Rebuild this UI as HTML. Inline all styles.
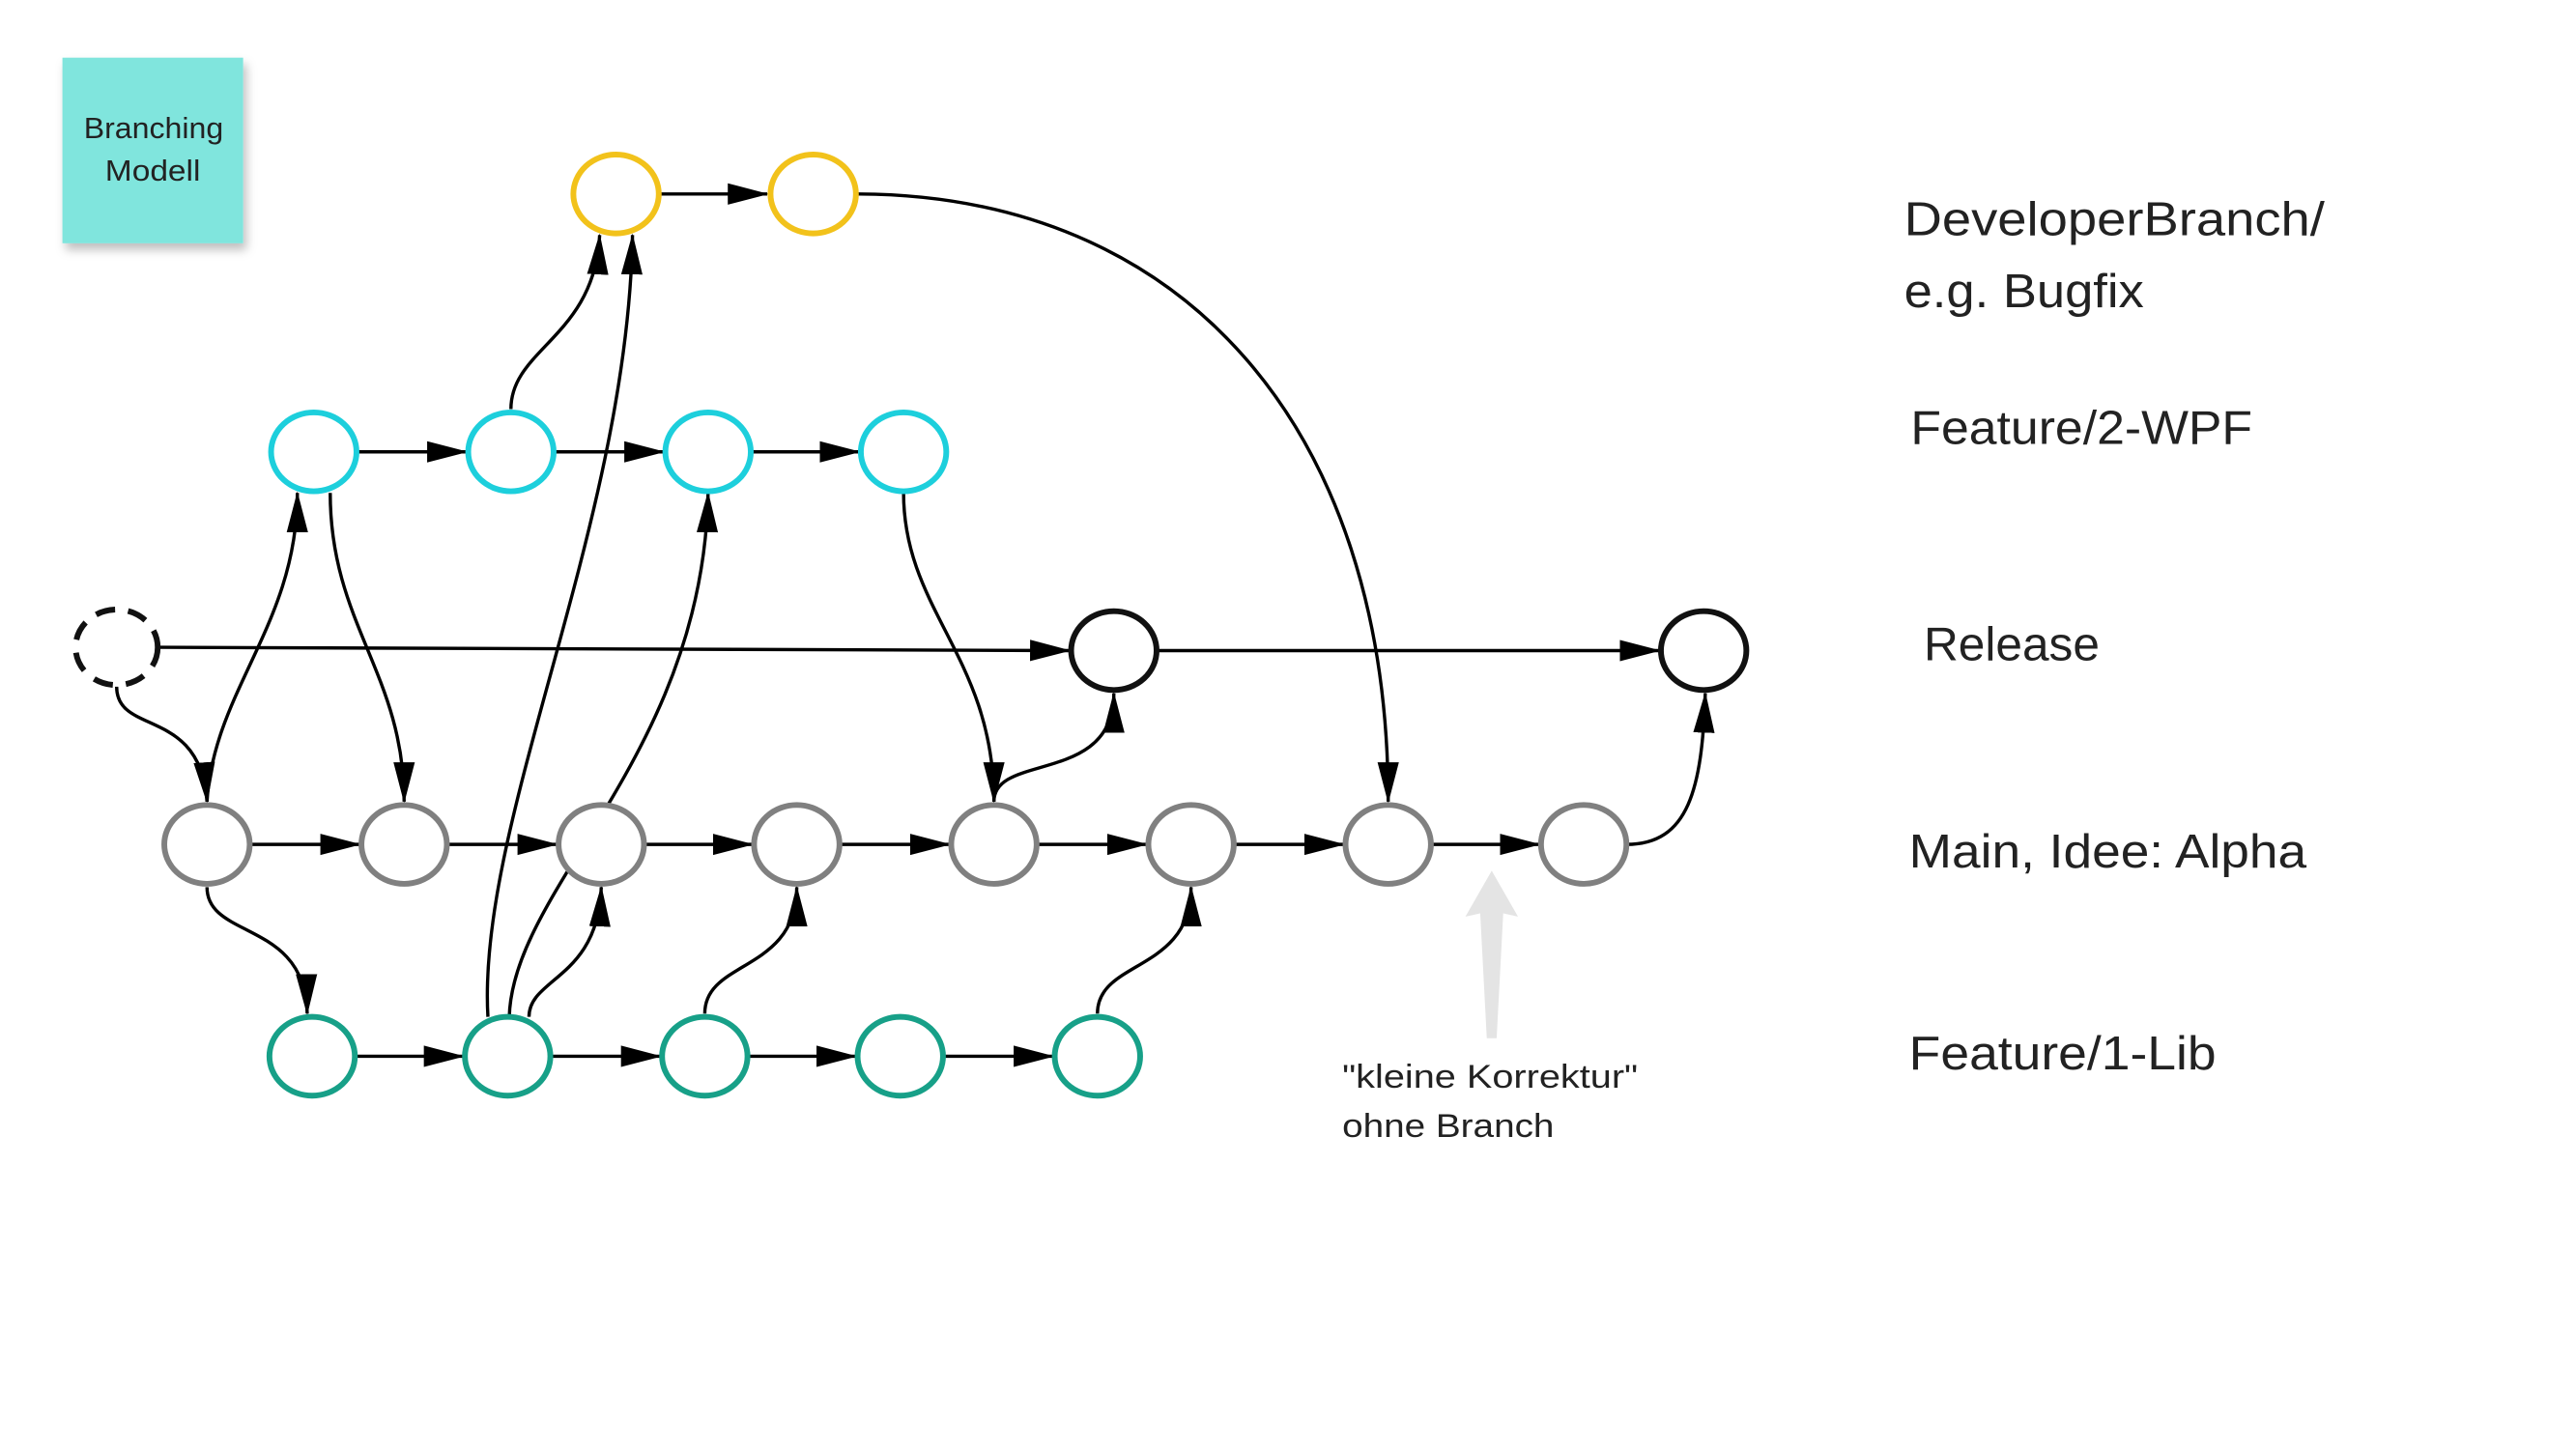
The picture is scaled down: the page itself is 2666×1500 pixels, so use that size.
<!DOCTYPE html>
<html><head><meta charset="utf-8"><style>
html,body{margin:0;padding:0;background:#fff;}
svg{display:block;}
text{font-family:"Liberation Sans",sans-serif;fill:#222;}
</style></head><body>
<svg width="2666" height="1500" viewBox="0 0 1568 882" xmlns="http://www.w3.org/2000/svg">
<defs>
<marker id="a" markerUnits="userSpaceOnUse" markerWidth="26" markerHeight="14" refX="24" refY="7" orient="auto">
<path d="M0,0.5 L25,7 L0,13.5 Z" fill="#000"/>
</marker>
<filter id="sh" x="-20%" y="-20%" width="150%" height="150%"><feDropShadow dx="2" dy="4" stdDeviation="3" flood-opacity="0.25"/></filter>
</defs>
<rect width="1568" height="882" fill="#fff"/>
<rect x="38" y="35" width="110" height="113" fill="#80e5dd" filter="url(#sh)"/>
<text x="51" y="84" font-size="18" textLength="85" lengthAdjust="spacingAndGlyphs">Branching</text>
<text x="64" y="110" font-size="18" textLength="58" lengthAdjust="spacingAndGlyphs">Modell</text>

<g fill="none" stroke="#000" stroke-width="2" marker-end="url(#a)">
<line x1="401" y1="118" x2="467" y2="118"/>
<line x1="217" y1="275" x2="284" y2="275"/>
<line x1="337" y1="275" x2="404" y2="275"/>
<line x1="457" y1="275" x2="523" y2="275"/>
<line x1="97" y1="394" x2="651" y2="396"/>
<line x1="704" y1="396" x2="1010" y2="396"/>
<line x1="152" y1="514" x2="219" y2="514"/>
<line x1="272" y1="514" x2="339" y2="514"/>
<line x1="392" y1="514" x2="458" y2="514"/>
<line x1="511" y1="514" x2="578" y2="514"/>
<line x1="631" y1="514" x2="698" y2="514"/>
<line x1="751" y1="514" x2="818" y2="514"/>
<line x1="871" y1="514" x2="937" y2="514"/>
<line x1="216" y1="643" x2="282" y2="643"/>
<line x1="335" y1="643" x2="402" y2="643"/>
<line x1="455" y1="643" x2="521" y2="643"/>
<line x1="574" y1="643" x2="641" y2="643"/>
<path d="M521,118 C720,118 845,260 845,488"/>
<path d="M311,249 C311,212 362,205 365,143"/>
<path d="M297,619 C290,500 382,320 385,143"/>
<path d="M310,619 C312,540 428,460 431,300"/>
<path d="M322,619 C322,595 364,596 366,540"/>
<path d="M126,540 C126,572 186,560 187,617"/>
<path d="M71,418 C71,448 122,430 126,488"/>
<path d="M990,514 C1028,514 1036,480 1038,422"/>
<path d="M126,488 C130,420 181,380 181,300"/>
<path d="M201,300 C201,380 246,410 246,488"/>
<path d="M550,300 C550,372 605,400 605,488"/>
<path d="M605,488 C605,458 678,478 678,422"/>
<path d="M429,617 C429,584 485,592 485,540"/>
<path d="M668,617 C668,584 725,592 725,540"/>
</g>

<path d="M905,632 L911,632 L915,556 L924,558 L908,530 L892,558 L901,556 Z" fill="#e4e4e4"/>

<g fill="#fff" stroke-width="3.5">
<ellipse cx="375" cy="118" rx="26" ry="24" stroke="#f2c21b"/>
<ellipse cx="495" cy="118" rx="26" ry="24" stroke="#f2c21b"/>
<g stroke="#1dcfdc">
<ellipse cx="191" cy="275" rx="26" ry="24"/>
<ellipse cx="311" cy="275" rx="26" ry="24"/>
<ellipse cx="431" cy="275" rx="26" ry="24"/>
<ellipse cx="550" cy="275" rx="26" ry="24"/>
</g>
<ellipse cx="71" cy="394" rx="25" ry="23" stroke="#111" stroke-dasharray="12 8"/>
<ellipse cx="678" cy="396" rx="26" ry="24" stroke="#111"/>
<ellipse cx="1037" cy="396" rx="26" ry="24" stroke="#111"/>
<g stroke="#808080">
<ellipse cx="126" cy="514" rx="26" ry="24"/>
<ellipse cx="246" cy="514" rx="26" ry="24"/>
<ellipse cx="366" cy="514" rx="26" ry="24"/>
<ellipse cx="485" cy="514" rx="26" ry="24"/>
<ellipse cx="605" cy="514" rx="26" ry="24"/>
<ellipse cx="725" cy="514" rx="26" ry="24"/>
<ellipse cx="845" cy="514" rx="26" ry="24"/>
<ellipse cx="964" cy="514" rx="26" ry="24"/>
</g>
<g stroke="#17a088">
<ellipse cx="190" cy="643" rx="26" ry="24"/>
<ellipse cx="309" cy="643" rx="26" ry="24"/>
<ellipse cx="429" cy="643" rx="26" ry="24"/>
<ellipse cx="548" cy="643" rx="26" ry="24"/>
<ellipse cx="668" cy="643" rx="26" ry="24"/>
</g>
</g>

<g font-size="29" lengthAdjust="spacingAndGlyphs">
<text x="1159" y="143" textLength="256" lengthAdjust="spacingAndGlyphs">DeveloperBranch/</text>
<text x="1159" y="187" textLength="146" lengthAdjust="spacingAndGlyphs">e.g. Bugfix</text>
<text x="1163" y="270" textLength="208" lengthAdjust="spacingAndGlyphs">Feature/2-WPF</text>
<text x="1171" y="402" textLength="107" lengthAdjust="spacingAndGlyphs">Release</text>
<text x="1162" y="528" textLength="242" lengthAdjust="spacingAndGlyphs">Main, Idee: Alpha</text>
<text x="1162" y="651" textLength="187" lengthAdjust="spacingAndGlyphs">Feature/1-Lib</text>
</g>
<text x="817" y="662" font-size="20" textLength="180" lengthAdjust="spacingAndGlyphs">"kleine Korrektur"</text>
<text x="817" y="692" font-size="20" textLength="129" lengthAdjust="spacingAndGlyphs">ohne Branch</text>
</svg>
</body></html>
